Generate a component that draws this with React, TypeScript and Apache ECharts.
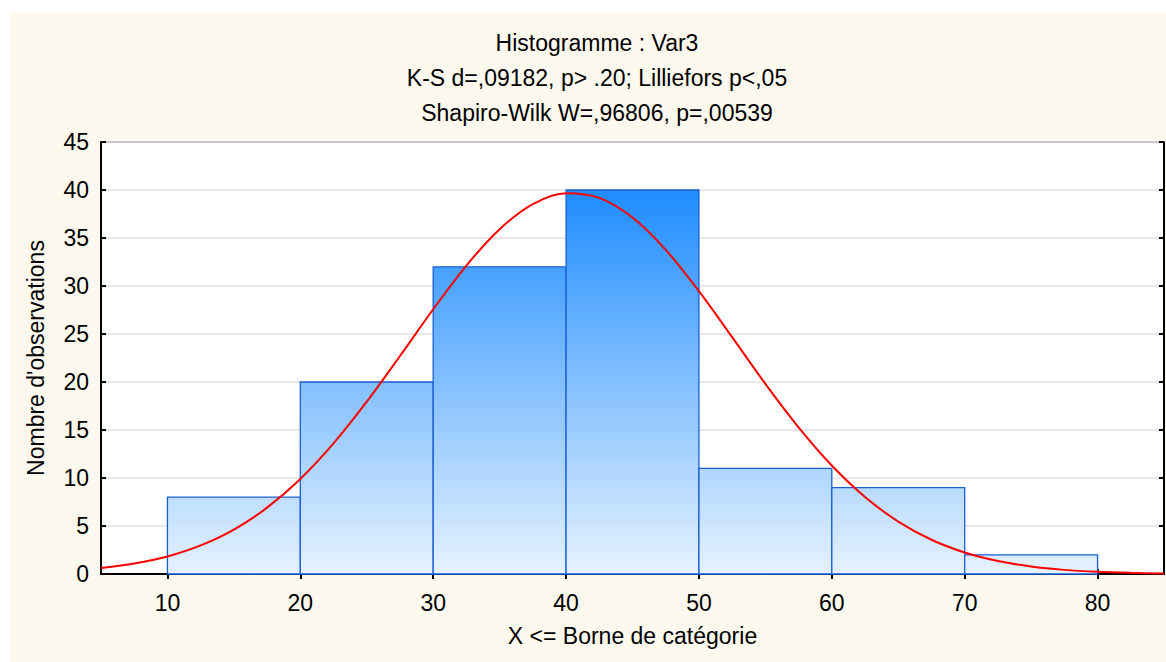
import React, { useEffect, useRef } from "react";
import * as echarts from "echarts";

// Histogram bins (X <= upper bound)
const binLower = [10, 20, 30, 40, 50, 60, 70];
const binUpper = [20, 30, 40, 50, 60, 70, 80];
const counts = [8, 20, 32, 40, 11, 9, 2];

// Fitted normal curve
const curveX = [5, 7.5, 10, 12.5, 15, 17.5, 20, 22.5, 25, 27.5, 30, 32.5, 35, 37.5, 40, 42.5, 45, 47.5, 50, 52.5, 55, 57.5, 60, 62.5, 65, 67.5, 70, 72.5, 75, 77.5, 80, 82.5, 85];
const curveY = [0.62, 1.09, 1.83, 2.98, 4.63, 6.91, 9.9, 13.61, 17.95, 22.71, 27.58, 32.13, 35.92, 38.54, 39.67, 39.18, 37.13, 33.77, 29.46, 24.67, 19.81, 15.28, 11.3, 8.02, 5.46, 3.57, 2.24, 1.35, 0.78, 0.43, 0.23, 0.12, 0.06];

const xTicks = [10, 20, 30, 40, 50, 60, 70, 80];

const titleLines = [
  "Histogramme : Var3",
  "K-S d=,09182, p> .20; Lilliefors p<,05",
  "Shapiro-Wilk W=,96806, p=,00539",
];
const xName = "X <= Borne de catégorie";
const yName = "Nombre d'observations";

const FONT = "'Liberation Sans', Arial, sans-serif";
const FS = 23;

export default function App() {
  const ref = useRef<HTMLDivElement>(null);
  useEffect(() => {
    document.body.style.margin = "0";
    const chart = echarts.init(ref.current!, null, { renderer: "svg" });
    const barData = binLower.map((lo, i) => [lo, binUpper[i], counts[i]]);
    const lineData = curveX.map((x, i) => [x, curveY[i]]);
    const option: any = {
      animation: false,
      backgroundColor: "#fdf9ee",
      textStyle: { fontFamily: FONT },
      graphic: [
        { type: "rect", left: 0, top: 0, shape: { width: 1166, height: 12 }, style: { fill: "#ffffff" }, silent: true },
        { type: "rect", left: 0, top: 0, shape: { width: 10, height: 662 }, style: { fill: "#ffffff" }, silent: true },
        ...titleLines.map((t, i) => ({
          type: "text",
          x: 597,
          y: [43, 78, 113][i],
          style: { text: t, fill: "#000", font: `${FS}px ${FONT}`, textAlign: "center", textVerticalAlign: "middle" },
        })),
      ],
      grid: {
        left: 101,
        top: 142,
        right: 2,
        bottom: 88,
        show: true,
        backgroundColor: "#ffffff",
        borderColor: "#000",
        borderWidth: 1,
      },
      xAxis: [
        {
          type: "value",
          min: 5,
          max: 85,
          position: "bottom",
          name: xName,
          nameLocation: "middle",
          nameGap: 50,
          nameTextStyle: { fontSize: FS, color: "#000", fontFamily: FONT },
          axisLine: { show: true, lineStyle: { color: "#000", width: 2 } },
          axisTick: { show: true, inside: true, length: 5, customValues: xTicks, lineStyle: { color: "#000", width: 2 } },
          axisLabel: { customValues: xTicks, fontSize: FS, color: "#000", margin: 17, fontFamily: FONT },
          splitLine: { show: false },
        },
        {
          type: "value",
          min: 5,
          max: 85,
          position: "top",
          axisLine: { show: true, lineStyle: { color: "#000", width: 2 } },
          axisTick: { show: true, inside: true, length: 5, customValues: xTicks, lineStyle: { color: "#000", width: 2 } },
          axisLabel: { show: false, customValues: xTicks },
          splitLine: { show: false },
        },
      ],
      yAxis: [
        {
          type: "value",
          min: 0,
          max: 45,
          interval: 5,
          position: "left",
          name: yName,
          nameLocation: "middle",
          nameGap: 54,
          nameTextStyle: { fontSize: FS, color: "#000", fontFamily: FONT },
          axisLine: { show: true, lineStyle: { color: "#000", width: 2 } },
          axisTick: { show: true, inside: true, length: 5, lineStyle: { color: "#000", width: 2 } },
          axisLabel: { fontSize: FS, color: "#000", margin: 12, fontFamily: FONT },
          splitLine: { show: true, lineStyle: { color: "#e2e2e2", width: 1.5 } },
        },
        {
          type: "value",
          min: 0,
          max: 45,
          interval: 5,
          position: "right",
          axisLine: { show: true, lineStyle: { color: "#000", width: 2 } },
          axisTick: { show: true, inside: true, length: 5, lineStyle: { color: "#000", width: 2 } },
          axisLabel: { show: false },
          splitLine: { show: false },
        },
      ],
      series: [
        {
          type: "custom",
          xAxisIndex: 0,
          yAxisIndex: 0,
          encode: { x: [0, 1], y: 2 },
          data: barData,
          z: 2,
          renderItem: (params: any, api: any) => {
            const lo = api.value(0);
            const hi = api.value(1);
            const c = api.value(2);
            const p0 = api.coord([lo, c]);
            const p1 = api.coord([hi, 0]);
            const top = api.coord([lo, 40])[1];
            const bottom = api.coord([lo, 0])[1];
            return {
              type: "rect",
              shape: { x: p0[0], y: p0[1], width: p1[0] - p0[0], height: p1[1] - p0[1] },
              style: {
                fill: new echarts.graphic.LinearGradient(
                  0, top, 0, bottom,
                  [
                    { offset: 0, color: "#1e8cff" },
                    { offset: 1, color: "#e6f2fe" },
                  ],
                  true
                ),
                stroke: "#1b5fd6",
                lineWidth: 1.3,
              },
            };
          },
        },
        {
          type: "line",
          xAxisIndex: 0,
          yAxisIndex: 0,
          data: lineData,
          smooth: 0.3,
          showSymbol: false,
          symbol: "none",
          z: 5,
          lineStyle: { color: "#ff0000", width: 2 },
        },
      ],
    };
    chart.setOption(option);
    return () => chart.dispose();
  }, []);
  return <div ref={ref} style={{ width: 1166, height: 662 }} />;
}
